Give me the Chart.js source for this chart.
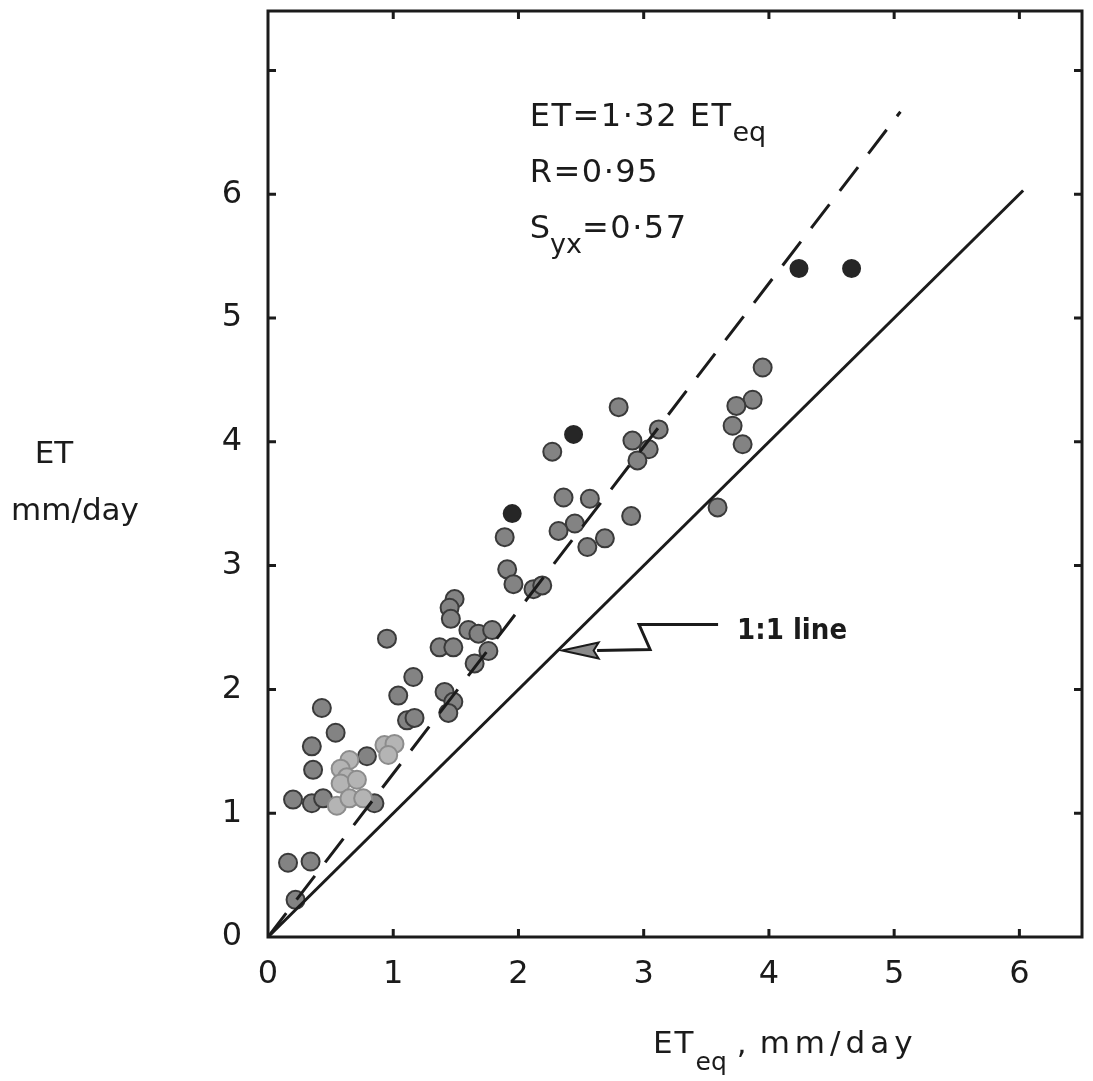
<!DOCTYPE html>
<html>
<head>
<meta charset="utf-8">
<script src="https://cdn.jsdelivr.net/npm/chart.js@4/dist/chart.umd.min.js"></script>
<style>
  html, body { margin: 0; padding: 0; background: #fff; }
  canvas { display: block; }
</style>
</head>
<body>
<canvas id="etChart" width="1093" height="1081"></canvas>
<script>
  // ---- Data --------------------------------------------------
  const X_TICKS = [0, 1, 2, 3, 4, 5, 6];
  const Y_TICKS = [0, 1, 2, 3, 4, 5, 6, 7];
  const Y_LABELS = ['0', '1', '2', '3', '4', '5', '6', ''];

  // ordinary (grey) points
  const PTS_X = [1.89, 1.91, 1.96, 2.12, 2.19, 1.49, 1.45, 1.46, 1.60, 1.68, 1.79, 1.76, 1.65,
    0.95, 1.37, 1.48, 1.16, 1.04, 1.41, 1.48, 1.44, 1.11, 1.17, 0.43, 0.54, 0.35, 0.79,
    0.36, 0.20, 0.35, 0.44, 0.85, 0.16, 0.34, 0.22, 2.80, 2.27, 3.12, 2.91, 3.04, 2.95,
    2.36, 2.57, 2.45, 2.32, 2.90, 2.69, 2.55, 3.95, 3.87, 3.74, 3.71, 3.79, 3.59];
  const PTS_Y = [3.23, 2.97, 2.85, 2.81, 2.84, 2.73, 2.66, 2.57, 2.48, 2.45, 2.48, 2.31, 2.21,
    2.41, 2.34, 2.34, 2.10, 1.95, 1.98, 1.90, 1.81, 1.75, 1.77, 1.85, 1.65, 1.54, 1.46,
    1.35, 1.11, 1.08, 1.12, 1.08, 0.60, 0.61, 0.30, 4.28, 3.92, 4.10, 4.01, 3.94, 3.85,
    3.55, 3.54, 3.34, 3.28, 3.40, 3.22, 3.15, 4.60, 4.34, 4.29, 4.13, 3.98, 3.47];

  // faint (light grey) points in the low cluster
  const FAINT_X = [0.93, 1.01, 0.96, 0.65, 0.58, 0.63, 0.58, 0.55, 0.65, 0.76, 0.71];
  const FAINT_Y = [1.55, 1.56, 1.47, 1.43, 1.36, 1.29, 1.24, 1.06, 1.12, 1.12, 1.27];

  // solid black points
  const DARK_X = [2.44, 1.95, 4.24, 4.66];
  const DARK_Y = [4.06, 3.42, 5.40, 5.40];

  // reference lines
  const ONE_TO_ONE_X = [0, 6.03];
  const SLOPE = 1.32;
  const REG_X = [0, 5.05];

  const INK = '#1b1b1b';
  const FONT = '"DejaVu Sans", "Liberation Sans", sans-serif';

  const toXY = (xs, ys) => xs.map((x, i) => ({ x, y: ys[i] }));

  // ---- Annotations ---------------------------------------------
  function drawRich(ctx, parts, x, y) {
    let cx = x;
    parts.forEach((p) => {
      ctx.font = p.font;
      ctx.letterSpacing = p.ls || '0px';
      cx += p.pre || 0;
      ctx.fillText(p.text, cx, y + (p.dy || 0));
      cx += ctx.measureText(p.text).width;
    });
    ctx.letterSpacing = '0px';
  }

  const frame = {
    id: 'frame',
    afterDatasetsDraw(chart) {
      const { ctx, chartArea: a, scales: { x, y } } = chart;
      ctx.save();
      ctx.strokeStyle = INK;
      ctx.lineWidth = 3;
      ctx.strokeRect(a.left, a.top, a.right - a.left, a.bottom - a.top);
      ctx.beginPath();
      X_TICKS.forEach((v) => {
        const px = x.getPixelForValue(v);
        if (px <= a.left + 2 || px >= a.right - 2) return;
        ctx.moveTo(px, a.bottom); ctx.lineTo(px, a.bottom - 8);
        ctx.moveTo(px, a.top); ctx.lineTo(px, a.top + 8);
      });
      Y_TICKS.forEach((v) => {
        const py = y.getPixelForValue(v);
        if (py >= a.bottom - 2 || py <= a.top + 2) return;
        ctx.moveTo(a.left, py); ctx.lineTo(a.left + 8, py);
        ctx.moveTo(a.right, py); ctx.lineTo(a.right - 8, py);
      });
      ctx.stroke();
      ctx.restore();
    },
  };

  const notes = {
    id: 'notes',
    afterDraw(chart) {
      const { ctx, scales: { x, y } } = chart;
      const X = (v) => x.getPixelForValue(v);
      const Y = (v) => y.getPixelForValue(v);
      ctx.save();
      ctx.fillStyle = INK;
      ctx.textAlign = 'left';
      ctx.textBaseline = 'alphabetic';

      const big = '32px ' + FONT;
      const sub = '27px ' + FONT;
      drawRich(ctx, [
        { text: 'ET=1·32 ET', font: big, ls: '1.5px' },
        { text: 'eq', font: sub, dy: 15 },
      ], X(2.09), Y(6.55));
      drawRich(ctx, [{ text: 'R=0·95', font: big, ls: '1.5px' }], X(2.09), Y(6.10));
      drawRich(ctx, [
        { text: 'S', font: big },
        { text: 'yx', font: sub, dy: 15 },
        { text: '=0·57', font: big, ls: '1.5px' },
      ], X(2.09), Y(5.645));

      // 1:1 line label with zig-zag arrow
      ctx.font = 'bold 29px "DejaVu Sans Condensed", ' + FONT;
      ctx.fillText('1:1 line', X(3.746), Y(2.41));
      ctx.strokeStyle = INK;
      ctx.lineWidth = 3;
      ctx.beginPath();
      ctx.moveTo(X(3.594), Y(2.524));
      ctx.lineTo(X(2.963), Y(2.524));
      ctx.lineTo(X(3.051), Y(2.323));
      ctx.lineTo(X(2.628), Y(2.315));
      ctx.stroke();
      ctx.beginPath();
      ctx.moveTo(X(2.348), Y(2.315));
      ctx.lineTo(X(2.64), Y(2.315) - 8);
      ctx.lineTo(X(2.60), Y(2.315));
      ctx.lineTo(X(2.64), Y(2.315) + 8);
      ctx.closePath();
      ctx.fillStyle = '#8a8a8a';
      ctx.fill();
      ctx.lineWidth = 2;
      ctx.stroke();

      // axis titles
      ctx.fillStyle = INK;
      ctx.textAlign = 'center';
      ctx.font = '31px ' + FONT;
      ctx.fillText('ET', 54, 463);
      ctx.fillText('mm/day', 75, 520);
      ctx.textAlign = 'left';
      drawRich(ctx, [
        { text: 'ET', font: '31px ' + FONT, ls: '2px' },
        { text: 'eq', font: '25px ' + FONT, dy: 17 },
        { text: ',', font: '31px ' + FONT, pre: 10 },
        { text: 'mm/day', font: '31px ' + FONT, ls: '5px', pre: 13 },
      ], 653, 1053);
      ctx.restore();
    },
  };

  // ---- Chart ---------------------------------------------------
  const pointSet = (label, data, bg, border, r) => ({
    type: 'scatter',
    label,
    data,
    backgroundColor: bg,
    borderColor: border,
    borderWidth: 2,
    pointRadius: r,
    pointHoverRadius: r,
  });

  new Chart(document.getElementById('etChart'), {
    type: 'scatter',
    data: {
      datasets: [
        {
          type: 'line',
          label: '1:1 line',
          data: ONE_TO_ONE_X.map((v) => ({ x: v, y: v })),
          borderColor: INK,
          borderWidth: 3,
          pointRadius: 0,
          fill: false,
        },
        {
          type: 'line',
          label: 'ET = 1.32 ETeq',
          data: REG_X.map((v) => ({ x: v, y: SLOPE * v })),
          borderColor: INK,
          borderWidth: 3,
          borderDash: [30, 17],
          pointRadius: 0,
          fill: false,
        },
        pointSet('faint', toXY(FAINT_X, FAINT_Y), '#b4b4b4', '#8c8c8c', 9),
        pointSet('observed', toXY(PTS_X, PTS_Y), '#838383', '#3a3a3a', 9),
        pointSet('dark', toXY(DARK_X, DARK_Y), '#262626', '#262626', 8.5),
      ],
    },
    options: {
      responsive: false,
      devicePixelRatio: 1,
      animation: false,
      layout: { padding: { top: 9, right: 11, left: 0, bottom: 0 } },
      scales: {
        x: {
          type: 'linear',
          min: 0,
          max: 6.5,
          afterBuildTicks: (s) => { s.ticks = X_TICKS.map((v) => ({ value: v })); },
          afterFit: (s) => { s.height = 144; s.paddingLeft = 0; s.paddingRight = 0; },
          grid: { display: false, drawTicks: false },
          border: { display: false },
          ticks: { color: INK, padding: 18, font: { family: FONT, size: 32 } },
        },
        y: {
          type: 'linear',
          min: 0,
          max: 7.48,
          afterBuildTicks: (s) => { s.ticks = Y_TICKS.map((v) => ({ value: v })); },
          afterFit: (s) => { s.width = 268; s.paddingTop = 0; s.paddingBottom = 0; },
          grid: { display: false, drawTicks: false },
          border: { display: false },
          ticks: {
            color: INK,
            padding: 26,
            font: { family: FONT, size: 32 },
            callback: (v) => Y_LABELS[Y_TICKS.indexOf(v)],
          },
        },
      },
      plugins: {
        legend: { display: false },
        tooltip: { enabled: false },
      },
    },
    plugins: [frame, notes],
  });
</script>
</body>
</html>
